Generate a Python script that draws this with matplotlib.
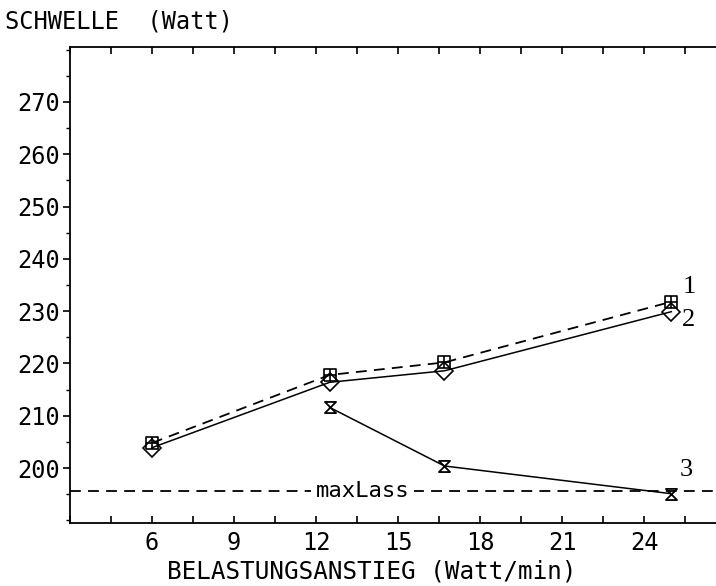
import matplotlib
matplotlib.use("Agg")
import matplotlib.pyplot as plt
from matplotlib.path import Path
from matplotlib.ticker import MultipleLocator

# rate of load increase (Watt/min) and thresholds (Watt)
x_rate = [6, 12.5, 16.7, 25]
curve1 = [204.8, 217.8, 220.2, 231.8]   # dashed, squares
curve2 = [203.9, 216.4, 218.6, 229.9]   # solid, diamonds
x_rate3 = [12.5, 16.7, 25]
curve3 = [211.6, 200.4, 195.1]          # solid, hourglasses
max_lass = 195.6

series_labels = ["1", "2", "3"]

# custom plotter-style markers
sq_plus = Path([(-1, -1), (1, -1), (1, 1), (-1, 1), (-1, -1),
                (0, -1), (0, 1), (-1, 0), (1, 0)],
               [Path.MOVETO, Path.LINETO, Path.LINETO, Path.LINETO, Path.LINETO,
                Path.MOVETO, Path.LINETO, Path.MOVETO, Path.LINETO])
hourglass = Path([(-1, 1), (1, 1), (-1, -1), (1, -1), (-1, 1)],
                 [Path.MOVETO, Path.LINETO, Path.LINETO, Path.LINETO, Path.CLOSEPOLY])

mono = "DejaVu Sans Mono"
fig = plt.figure(figsize=(7.16, 5.86), dpi=100)
ax = fig.add_axes([70 / 716, 1 - 523 / 586, 656 / 716, 476 / 586])

ax.plot(x_rate, curve1, color="black", lw=1.3, ls=(0, (6, 4)),
        marker=sq_plus, ms=9, mew=1.2, mfc="none", mec="black")
ax.plot(x_rate, curve2, color="black", lw=1.1,
        marker="D", ms=9, mew=1.2, mfc="none", mec="black")
ax.plot(x_rate3, curve3, color="black", lw=1.1,
        marker=hourglass, ms=8, mew=1.3, mfc="none", mec="black")

ax.axhline(max_lass, color="black", lw=1.3, ls=(0, (6, 4)))
ax.text(13.7, max_lass, "maxLass", ha="center", va="center", fontsize=16,
        family=mono, bbox=dict(facecolor="white", edgecolor="none", pad=3))

ax.text(25.4, 234.6, series_labels[0], family="Liberation Serif", fontsize=19,
        ha="left", va="center")
ax.text(25.4, 228.3, series_labels[1], family="Liberation Serif", fontsize=19,
        ha="left", va="center")
ax.text(25.3, 199.6, series_labels[2], family="Liberation Serif", fontsize=19,
        ha="left", va="center")

ax.set_xlim(3, 27)
ax.set_ylim(189.5, 280.5)
ax.set_xticks(range(6, 25, 3))
ax.xaxis.set_minor_locator(MultipleLocator(1.5))
ax.set_yticks(range(200, 271, 10))
ax.yaxis.set_minor_locator(MultipleLocator(5))

ax.tick_params(axis="x", which="both", direction="in", top=True, length=5,
               width=1.2, labelsize=17, pad=6)
ax.tick_params(axis="y", which="major", direction="out", length=5, width=1.2,
               labelsize=17, pad=2)
ax.tick_params(axis="y", which="minor", direction="out", length=3, width=1.0)
for lab in ax.get_xticklabels() + ax.get_yticklabels():
    lab.set_family(mono)

for side in ("left", "bottom", "top"):
    ax.spines[side].set_linewidth(1.3)
ax.spines["right"].set_visible(False)

fig.text(372 / 716, 1 - 571 / 586, "BELASTUNGSANSTIEG (Watt/min)", family=mono,
         fontsize=17.5, ha="center", va="center")
fig.text(5 / 716, 1 - 21 / 586, "SCHWELLE  (Watt)", family=mono, fontsize=17,
         ha="left", va="center")

fig.savefig("out.png", dpi=100)
